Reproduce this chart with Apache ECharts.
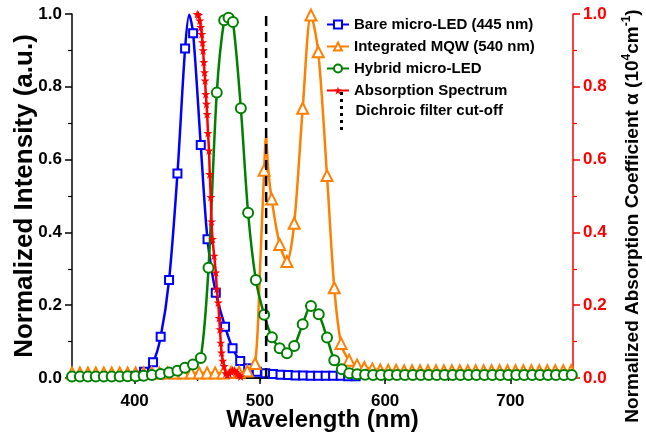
<!DOCTYPE html>
<html><head><meta charset="utf-8">
<script src="https://cdn.jsdelivr.net/npm/echarts@6/dist/echarts.min.js"></script>
<style>html,body{margin:0;padding:0;background:#fff}#c{width:646px;height:435px}</style>
</head><body><div id="c"></div>
<script>
// ---- data ----
const xTicks = [400, 500, 600, 700];
const xMinorTicks = [450, 550, 650];
const xTopTicks = [400, 450, 500, 550, 600, 650, 700];

// Bare micro-LED (445 nm) - marker points
const bareWl  = [401, 407.5, 414.7, 420.8, 427.5, 434.2, 440.3, 446.7, 452.8, 458.2, 464.8, 472.2, 478.2, 484.3, 490.7, 497.6, 504.4, 510.5, 516.5, 522.5, 528.5, 534.5, 540.5, 546.5, 552.5, 558.5, 564.5, 570.5, 576.5];
const bareVal = [0.006, 0.017, 0.043, 0.113, 0.269, 0.562, 0.905, 0.947, 0.64, 0.381, 0.234, 0.141, 0.082, 0.047, 0.027, 0.017, 0.013, 0.011, 0.009, 0.008, 0.007, 0.007, 0.006, 0.006, 0.006, 0.006, 0.006, 0.005, 0.005];
// extra line-shape points (no marker)
const bareLineWl  = [396, 443.6];
const bareLineVal = [0.004, 0.998];

// Integrated MQW (540 nm)
const mqwWl  = [350, 356.3, 362.7, 369, 375.4, 381.7, 388.1, 394.4, 400.8, 407.2, 413.5, 419.8, 426.2, 432.5, 438.9, 445.2, 451.6, 457.9, 464.3, 470.6, 477, 483.4, 490, 496.2, 503.4, 509.4, 515.8, 521.6, 527.4, 534.2, 540.8, 546.6, 553.6, 559.4, 564.8, 571.2, 577.6, 583.4, 589.8, 596.1, 602.5, 608.8, 615.2, 621.5, 627.9, 634.2, 640.6, 646.9, 653.3, 659.6, 666, 672.3, 678.7, 685, 691.4, 697.7, 704.1, 710.4, 716.8, 723.1, 729.5, 735.8, 742.2, 748.5];
const mqwVal = [0.014, 0.014, 0.014, 0.014, 0.014, 0.014, 0.014, 0.014, 0.014, 0.014, 0.014, 0.014, 0.014, 0.014, 0.014, 0.014, 0.014, 0.014, 0.014, 0.014, 0.015, 0.016, 0.019, 0.04, 0.571, 0.492, 0.367, 0.32, 0.425, 0.741, 0.997, 0.896, 0.556, 0.248, 0.095, 0.049, 0.036, 0.029, 0.025, 0.022, 0.021, 0.021, 0.02, 0.02, 0.02, 0.02, 0.02, 0.02, 0.02, 0.02, 0.02, 0.02, 0.02, 0.02, 0.02, 0.02, 0.02, 0.02, 0.02, 0.02, 0.02, 0.02, 0.02, 0.02];
const mqwLineWl  = [500, 504.9, 506.5];
const mqwLineVal = [0.29, 0.664, 0.58];

// Hybrid micro-LED
const hybWl  = [350, 356.3, 362.7, 369, 375.4, 381.7, 388.1, 394.4, 400.8, 407.2, 413.8, 420.8, 427.5, 434.2, 440.2, 446.6, 452.8, 459, 465.6, 471.5, 475, 478.5, 484.8, 490.6, 496.8, 503.4, 509.6, 515.8, 521.6, 527.4, 534.2, 540.8, 547, 553.6, 559.4, 565.4, 571.4, 577.7, 584, 590.4, 596.7, 603.1, 609.4, 615.8, 622.1, 628.5, 634.8, 641.2, 647.5, 653.9, 660.2, 666.6, 672.9, 679.3, 685.6, 692, 698.3, 704.7, 711, 717.4, 723.7, 730.1, 736.4, 742.8, 749];
const hybVal = [0.004, 0.004, 0.004, 0.004, 0.004, 0.004, 0.004, 0.005, 0.005, 0.006, 0.008, 0.011, 0.015, 0.02, 0.028, 0.037, 0.055, 0.303, 0.784, 0.983, 0.99, 0.978, 0.741, 0.454, 0.269, 0.174, 0.112, 0.082, 0.068, 0.088, 0.148, 0.198, 0.175, 0.111, 0.049, 0.024, 0.013, 0.01, 0.009, 0.008, 0.008, 0.008, 0.008, 0.008, 0.008, 0.008, 0.008, 0.008, 0.008, 0.008, 0.008, 0.008, 0.008, 0.008, 0.008, 0.008, 0.008, 0.008, 0.008, 0.008, 0.008, 0.008, 0.008, 0.008, 0.008];
const hybLineWl  = [];
const hybLineVal = [];

// Absorption Spectrum (right axis)
const absWl  = [450, 451, 452, 452.8, 453.6, 454.2, 454.7, 455.2, 455.8, 456.3, 456.8, 457.4, 457.9, 458.6, 459.4, 460, 460.8, 461.4, 462.2, 463.5, 464.8, 465.6, 466.7, 467.5, 468.1, 468.8, 469.4, 470.4, 471.5, 472.8, 474, 475.5, 476.8, 478.2, 479.6, 480.8, 482, 483.2, 484.6];
const absVal = [1.0, 0.997, 0.982, 0.964, 0.945, 0.922, 0.9, 0.868, 0.84, 0.817, 0.78, 0.753, 0.725, 0.673, 0.625, 0.56, 0.497, 0.43, 0.382, 0.336, 0.29, 0.245, 0.207, 0.165, 0.134, 0.097, 0.07, 0.047, 0.033, 0.013, 0.008, 0.012, 0.018, 0.022, 0.021, 0.017, 0.012, 0.008, 0.004];

// Dichroic filter cut-off
const cutoffWl = 505;
const cutoffRange = [0, 1];

// ---- build ----
function build(mWl, mVal, lWl, lVal) {
  const pts = [];
  mWl.forEach((w, i) => pts.push({ value: [w, mVal[i]] }));
  lWl.forEach((w, i) => pts.push({ value: [w, lVal[i]], symbol: 'none' }));
  pts.sort((a, b) => a.value[0] - b.value[0]);
  return pts;
}
const FONT = 'Liberation Sans, Arial, sans-serif';
const STAR = 'path://M50,0 L61,35 L98,35 L68,57 L79,91 L50,70 L21,91 L32,57 L2,35 L39,35 Z';
const DOTS = 'path://M0,0h3v3h-3z M0,7h3v3h-3z M0,14h3v3h-3z M0,21h3v3h-3z M0,28h3v3h-3z M0,35h3v3h-3z';

function lineSeries(name, color, symbol, size, data, yIdx, z) {
  return {
    name, type: 'line', xAxisIndex: 0, yAxisIndex: yIdx, data,
    smooth: 0.3, showAllSymbol: true, symbol, symbolSize: size,
    lineStyle: { color, width: 2.5 },
    itemStyle: { color, borderWidth: 1.6 },
    z, animation: false
  };
}

const chart = echarts.init(document.getElementById('c'), null, { renderer: 'canvas' });
const axisLab = { color: '#000', fontSize: 17, fontWeight: 'bold', fontFamily: FONT };
chart.setOption({
  animation: false,
  backgroundColor: '#fff',
  grid: { left: 72, right: 73, top: 14, bottom: 57, containLabel: false, outerBoundsMode: 'none' },
  legend: [{
    data: ['Bare micro-LED (445 nm)', 'Integrated MQW (540 nm)', 'Hybrid micro-LED', 'Absorption Spectrum'],
    orient: 'vertical', left: 326, top: 17, padding: 0, itemWidth: 22, itemHeight: 10, itemGap: 7,
    textStyle: { color: '#000', fontSize: 15, fontWeight: 'bold', fontFamily: FONT }
  }, {
    data: [{ name: 'Dichroic filter cut-off', icon: DOTS }],
    orient: 'vertical', left: 340, top: 92, padding: 0, itemWidth: 18, itemHeight: 38,
    textStyle: { color: '#000', fontSize: 15, fontWeight: 'bold', fontFamily: FONT }
  }],
  xAxis: [{
    type: 'value', min: 350, max: 750, position: 'bottom',
    name: 'Wavelength (nm)', nameLocation: 'middle', nameGap: 30, nameMoveOverlap: false,
    nameTextStyle: { color: '#000', fontSize: 24, fontWeight: 'bold', fontFamily: FONT },
    axisLine: { show: true, lineStyle: { color: '#000', width: 1.5 } },
    axisTick: { show: true, inside: false, length: 6, customValues: xTicks, lineStyle: { color: '#000', width: 1.5 } },
    axisLabel: Object.assign({ customValues: xTicks, margin: 15 }, axisLab),
    splitLine: { show: false }
  }, {
    type: 'value', min: 350, max: 750, position: 'top',
    axisLine: { show: true, lineStyle: { color: '#000', width: 1.5 } },
    axisTick: { show: true, inside: true, length: 3, customValues: xTopTicks, lineStyle: { color: '#000', width: 1.2 } },
    axisLabel: { show: false }, splitLine: { show: false }
  }, {
    type: 'value', min: 350, max: 750, position: 'bottom',
    axisLine: { show: false },
    axisTick: { show: true, inside: false, length: 3, customValues: xMinorTicks, lineStyle: { color: '#000', width: 1.2 } },
    axisLabel: { show: false }, splitLine: { show: false }
  }],
  yAxis: [{
    type: 'value', min: 0, max: 1, interval: 0.2, position: 'left',
    name: 'Normalized Intensity (a.u.)', nameLocation: 'middle', nameRotate: 90, nameGap: 34, nameMoveOverlap: false,
    nameTextStyle: { color: '#000', fontSize: 26, fontWeight: 'bold', fontFamily: FONT },
    axisLine: { show: true, lineStyle: { color: '#000', width: 1.5 } },
    axisTick: { show: true, inside: false, length: 7, lineStyle: { color: '#000', width: 1.5 } },
    minorTick: { show: true, splitNumber: 2, length: 4, lineStyle: { color: '#000', width: 1.2 } },
    axisLabel: Object.assign({ margin: 10, formatter: v => v.toFixed(1) }, axisLab),
    splitLine: { show: false }
  }, {
    type: 'value', min: 0, max: 1, interval: 0.2, position: 'right',
    name: 'Normalized Absorption Coefficient α (10{s|4}cm{s|-1})', nameLocation: 'middle', nameRotate: 90, nameGap: 48, nameMoveOverlap: false,
    nameTextStyle: { color: '#000', fontSize: 19, lineHeight: 24, fontWeight: 'bold', fontFamily: FONT,
      padding: [0, 40, 0, 0],
      rich: { s: { color: '#000', fontSize: 12, fontWeight: 'bold', fontFamily: FONT, verticalAlign: 'top' } } },
    axisLine: { show: true, lineStyle: { color: '#ff0000', width: 1.5 } },
    axisTick: { show: true, inside: false, length: 7, lineStyle: { color: '#ff0000', width: 1.5 } },
    minorTick: { show: true, splitNumber: 2, length: 4, lineStyle: { color: '#ff0000', width: 1.2 } },
    axisLabel: { margin: 10, formatter: v => v.toFixed(1), color: '#ff0000', fontSize: 17, fontWeight: 'bold', fontFamily: FONT },
    splitLine: { show: false }
  }],
  series: [
    lineSeries('Bare micro-LED (445 nm)', '#0000ff', 'emptyRect', 8, build(bareWl, bareVal, bareLineWl, bareLineVal), 0, 2),
    lineSeries('Integrated MQW (540 nm)', '#ff8000', 'emptyTriangle', 11, build(mqwWl, mqwVal, mqwLineWl, mqwLineVal), 0, 3),
    lineSeries('Hybrid micro-LED', '#008000', 'emptyCircle', 10, build(hybWl, hybVal, hybLineWl, hybLineVal), 0, 4),
    lineSeries('Absorption Spectrum', '#ff0000', STAR, 9, build(absWl, absVal, [], []), 1, 5),
    {
      name: 'Dichroic filter cut-off', type: 'line', xAxisIndex: 0, yAxisIndex: 0,
      data: cutoffRange.map(v => [cutoffWl, v]), symbol: 'none',
      lineStyle: { color: '#000', width: 2.5, type: [10, 6] },
      itemStyle: { color: '#000' }, z: 6, animation: false
    }
  ]
});
</script>
</body></html>
